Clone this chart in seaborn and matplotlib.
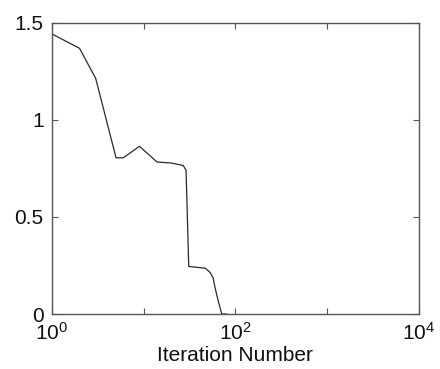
import matplotlib
matplotlib.use("Agg")
import matplotlib.pyplot as plt
import seaborn as sns
import pandas as pd

iterations = [1, 2, 3, 5, 6, 9, 14, 20, 27, 29, 31, 47, 53, 57, 60, 65, 71, 80]
values = [1.443, 1.369, 1.214, 0.805, 0.805, 0.864, 0.783, 0.778, 0.765, 0.740,
          0.245, 0.236, 0.214, 0.188, 0.136, 0.067, 0.0, 0.0]
xticks = [1, 10, 100, 1000, 10000]
xtick_labels = [r"$\mathdefault{10^{0}}$", "", r"$\mathdefault{10^{2}}$", "", r"$\mathdefault{10^{4}}$"]
yticks = [0, 0.5, 1, 1.5]
ytick_labels = ["0", "0.5", "1", "1.5"]

sns.set_style("white")
plt.rcParams["font.family"] = ["Liberation Sans", "DejaVu Sans"]
plt.rcParams["mathtext.default"] = "regular"

df = pd.DataFrame({"Iteration": iterations, "Value": values})

fig = plt.figure(figsize=(4.4, 3.69), dpi=100)
ax = fig.add_axes([0.118, 0.149, 0.834, 0.789])
sns.lineplot(data=df, x="Iteration", y="Value", ax=ax, color="#2a2a2a",
             linewidth=0.9, estimator=None, sort=False)
ax.set_xscale("log")
ax.set_xlim(1, 10000)
ax.set_ylim(0, 1.5)
ax.set_xticks(xticks)
ax.set_xticklabels(xtick_labels)
ax.xaxis.set_minor_locator(matplotlib.ticker.NullLocator())
ax.set_yticks(yticks)
ax.set_yticklabels(ytick_labels)
ax.tick_params(direction="in", length=4, width=0.8, color="#555555",
               labelsize=15, top=True, right=True, bottom=True, left=True,
               labelcolor="#111111")
ax.tick_params(axis="y", pad=6)
ax.tick_params(axis="x", pad=6)
for s in ax.spines.values():
    s.set_visible(True)
    s.set_color("#555555")
    s.set_linewidth(1.0)
ax.set_xlabel("Iteration Number", fontsize=15, labelpad=1, color="#111111")
ax.set_ylabel("")
fig.savefig("out.png", dpi=100)
